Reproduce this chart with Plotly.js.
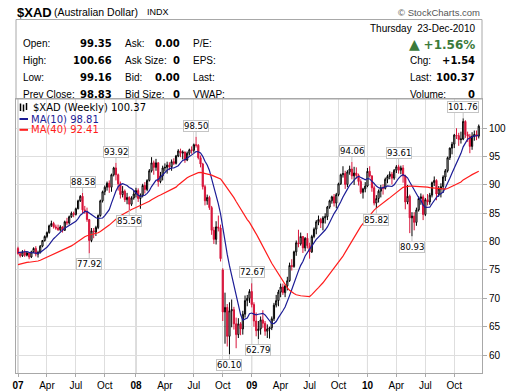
<!DOCTYPE html>
<html><head><meta charset="utf-8">
<script src="https://cdn.plot.ly/plotly-3.0.1.min.js"></script>
<style>html,body{margin:0;padding:0;background:#fff;}#chart{width:520px;height:391px;}</style>
</head><body><div id="chart"></div>
<script>
// ---------- data ----------
const firstWeek = '2007-01-01'; // weekly bars, Monday-dated
// closes of the 39 weeks before the first bar (for the moving averages)
const warmupClose = [72.5,73.3,74.5,75.5,76.3,77.0,76.0,75.7,75.5,74.3,73.2,73.6,74.3,74.8,74.9,75.3,76.3,76.5,76.3,76.3,
  76.2,76.2,76.0,75.0,75.5,74.8,74.5,75.2,75.8,76.3,77.3,77.0,77.3,77.8,78.8,78.9,78.3,78.6,78.8];
const open = [78.8,77.9,77.5,78.2,77.6,78.0,77.3,78.2,78.8,77.8,
 78.1,79.2,80.2,80.9,81.6,82.8,83.2,82.6,82.4,82.1,
 82.6,82.0,83.5,83.3,84.4,85.0,84.8,85.8,87.2,88.0,
 85.6,85.3,83.9,80.2,81.9,81.7,82.5,84.6,87.2,88.8,
 89.6,90.3,89.6,91.8,93.0,91.8,90.2,88.3,88.9,87.4,
 87.8,86.6,87.7,88.4,89.0,87.6,88.2,89.9,89.2,90.8,
 92.5,93.9,93.1,93.9,90.6,91.6,93.0,93.1,93.5,93.2,
 94.1,93.8,95.1,96.0,95.6,95.8,94.4,95.6,96.2,96.1,
 97.1,97.0,94.8,93.7,89.7,87.2,87.8,86.0,82.0,80.4,
 82.6,82.4,75.0,67.6,68.4,63.3,67.8,68.0,65.5,63.6,
 65.5,64.6,67.2,69.6,70.0,71.2,68.9,66.0,64.3,64.6,
 66.2,65.6,64.2,64.6,64.8,66.4,68.8,69.6,71.1,72.0,
 71.0,72.2,73.1,75.8,75.6,78.2,79.8,79.6,80.9,78.9,
 80.6,79.3,78.2,80.9,82.2,83.5,83.9,83.3,84.2,84.4,
 86.1,87.2,87.9,86.8,88.3,90.2,91.8,92.0,90.1,92.3,
 92.8,91.6,92.1,91.7,90.6,88.7,89.3,89.8,92.4,91.6,
 89.5,86.8,87.6,88.9,89.5,89.4,91.0,91.5,91.9,91.2,
 92.6,93.2,92.6,93.0,91.6,87.0,88.0,84.2,84.5,83.4,
 85.6,87.6,87.9,84.8,87.4,87.0,88.2,90.4,90.8,88.4,
 89.3,89.7,91.4,92.5,94.8,96.5,97.2,98.8,98.7,98.0,
 98.1,101.2,98.9,98.6,96.8,98.6,98.9,98.6];
const high = [79.1,78.2,78.5,78.6,78.3,78.1,78.4,79.0,79.2,78.4,
 79.4,80.3,81.1,81.8,83.0,83.7,83.5,83.0,83.0,82.9,
 82.7,83.7,84.2,84.6,85.3,85.3,86.0,87.4,88.2,88.58,
 86.3,86.0,84.0,82.4,82.4,82.8,84.8,87.4,89.0,89.9,
 90.6,90.8,92.0,93.2,93.92,92.0,90.6,89.8,89.2,88.6,
 88.0,88.0,89.0,89.5,89.4,88.5,90.2,90.5,91.0,92.8,
 94.9,94.3,94.6,94.0,92.3,93.4,93.8,94.1,94.0,94.5,
 94.7,95.3,96.3,96.4,96.1,95.9,95.9,96.4,96.8,97.3,
 98.5,97.2,95.2,93.9,90.0,88.3,88.1,86.3,82.6,83.6,
 84.6,83.0,75.3,71.0,69.0,69.3,69.8,68.5,66.6,66.5,
 65.8,67.8,70.5,70.6,71.6,72.67,69.3,67.5,66.0,66.8,
 67.9,66.0,65.4,65.0,66.8,69.2,70.6,71.5,72.6,72.6,
 72.4,73.8,76.3,76.9,78.4,80.2,82.1,81.6,81.0,80.8,
 81.5,79.8,81.2,82.5,83.8,84.6,84.2,84.5,85.0,86.3,
 87.4,88.1,88.4,88.6,90.4,92.0,93.3,92.5,92.6,93.4,
 94.06,93.2,93.1,92.0,91.0,89.5,90.5,93.0,93.3,91.7,
 89.9,88.2,89.2,90.0,90.1,91.3,91.8,92.4,92.3,92.8,
 93.5,93.61,93.4,93.5,91.8,90.0,88.3,85.2,85.2,86.0,
 88.0,88.5,88.3,87.7,88.4,88.6,90.6,91.5,91.0,89.8,
 90.3,91.7,92.8,95.0,96.6,97.6,99.0,100.0,99.2,99.4,
 101.76,101.4,99.4,99.0,99.3,99.6,99.6,100.66];
const low = [77.7,77.2,77.3,77.3,77.4,76.9,77.1,78.0,77.4,77.2,
 77.9,79.0,80.0,80.6,81.4,82.6,82.3,82.1,81.9,81.8,
 81.6,81.9,82.9,83.0,84.2,84.3,84.6,85.7,87.0,85.0,
 84.9,83.5,77.92,79.9,80.6,81.0,82.2,84.4,86.9,88.2,
 89.0,88.6,88.8,91.5,90.8,89.0,87.6,87.8,87.0,86.6,
 85.56,86.3,87.4,87.8,87.0,85.8,87.8,88.5,88.9,90.6,
 92.2,91.8,92.5,89.7,90.3,90.8,92.4,92.0,92.6,92.5,
 93.5,93.6,94.9,94.9,94.5,93.9,94.2,95.2,95.5,95.7,
 96.6,94.5,93.1,89.2,86.4,86.5,85.6,81.2,79.6,79.5,
 81.8,76.5,66.0,62.0,61.5,60.10,64.9,64.5,61.2,63.0,
 63.5,63.6,66.6,68.6,69.2,68.4,65.0,63.3,62.79,63.6,
 64.8,63.4,63.0,62.9,64.4,66.0,68.4,68.6,70.2,70.6,
 70.2,71.4,72.9,74.9,75.4,77.5,79.0,79.3,78.0,78.3,
 78.8,77.0,78.0,80.6,81.3,82.9,82.4,82.0,83.2,83.8,
 85.8,86.7,86.2,85.9,88.0,90.0,91.3,89.3,89.6,91.8,
 91.0,90.0,91.1,89.9,88.4,87.6,88.7,89.6,91.3,88.8,
 86.4,85.82,86.9,87.8,88.3,89.2,90.3,91.0,90.1,90.9,
 92.1,92.0,91.9,90.4,85.7,86.6,81.5,80.93,82.0,82.8,
 85.3,86.5,83.8,84.5,86.4,86.5,87.8,89.8,87.3,87.9,
 87.8,88.6,90.7,92.2,94.4,95.4,96.5,98.1,96.9,97.3,
 97.9,98.3,97.6,95.6,96.2,97.8,97.9,98.2];
const close = [77.9,77.5,78.2,77.6,78.0,77.3,78.2,78.8,77.8,78.1,
 79.2,80.2,80.9,81.6,82.8,83.2,82.6,82.4,82.1,82.6,
 82.0,83.5,83.3,84.4,85.0,84.8,85.8,87.2,88.0,85.6,
 85.3,83.9,80.2,81.9,81.7,82.5,84.6,87.2,88.8,89.6,
 90.3,89.6,91.8,93.0,91.8,90.2,88.3,88.9,87.4,87.8,
 86.6,87.7,88.4,89.0,87.6,88.2,89.9,89.2,90.8,92.5,
 93.9,93.1,93.9,90.6,91.6,93.0,93.1,93.5,93.2,94.1,
 93.8,95.1,96.0,95.6,95.8,94.4,95.6,96.2,96.1,97.1,
 97.0,94.8,93.7,89.7,87.2,87.8,86.0,82.0,80.4,82.6,
 82.4,77.0,67.6,68.4,63.3,67.8,68.0,65.5,63.6,65.5,
 64.6,67.2,69.6,70.0,71.2,68.9,66.0,64.3,64.6,66.2,
 65.6,64.2,64.6,64.8,66.4,68.8,69.6,71.1,72.0,71.0,
 72.2,73.1,75.8,75.6,78.2,79.8,79.6,80.9,78.9,80.6,
 79.3,78.2,80.9,82.2,83.5,83.9,83.3,84.2,84.4,86.1,
 87.2,87.9,86.8,88.3,90.2,91.8,92.0,90.1,92.3,92.8,
 91.6,92.1,91.7,90.6,88.7,89.3,89.8,92.4,91.6,89.5,
 86.8,87.6,88.9,89.5,89.4,91.0,91.5,91.9,91.2,92.6,
 93.2,92.6,93.0,91.6,87.0,88.0,84.2,84.5,83.4,85.6,
 87.6,87.9,84.8,87.4,87.0,88.2,90.4,90.8,88.4,89.3,
 89.7,91.4,92.5,94.8,96.5,97.2,98.8,98.7,98.0,98.1,
 101.2,98.9,98.6,96.8,98.6,98.9,98.6,100.37];
// labelled swing points: bar date and whether the label marks the high or the low
const swingDates = ['2007-07-23','2007-08-13','2007-11-05','2007-12-17','2008-07-14','2008-10-27','2009-01-05',
  '2009-01-26','2009-11-16','2010-02-01','2010-04-12','2010-05-24','2010-11-01'];
const swingSides = ['hi','lo','hi','lo','hi','lo','hi','lo','hi','lo','hi','lo','hi'];
const tickDates = ['2007-01-01','2007-04-02','2007-07-02','2007-10-01','2008-01-07','2008-04-07','2008-07-07','2008-10-06',
  '2009-01-05','2009-04-06','2009-07-06','2009-10-05','2010-01-04','2010-04-05','2010-07-05','2010-10-04'];
const tickLabels = ['<b>07</b>','Apr','Jul','Oct','<b>08</b>','Apr','Jul','Oct','<b>09</b>','Apr','Jul','Oct','<b>10</b>','Apr','Jul','Oct'];
const yTicks = [60,65,70,75,80,85,90,95,100];
const quote = {open:'99.35', high:'100.66', low:'99.16', prev:'98.83', ask:'0.00', askSize:'0', bid:'0.00', bidSize:'0',
  date:'Thursday&nbsp;&nbsp;23-Dec-2010', pct:'+1.56%', chg:'+1.54', last:'100.37', volume:'0'};
const legendText = {main:'$XAD (Weekly) 100.37', ma10:'MA(10) 98.81', ma40:'MA(40) 92.41'};

// ---------- derived ----------
function addDays(s, d){ const t = new Date(s + 'T00:00:00Z'); t.setUTCDate(t.getUTCDate() + d); return t.toISOString().slice(0,10); }
const weeks = close.map((_, i) => addDays(firstWeek, 7 * i));
const allClose = warmupClose.concat(close);
function movingAvg(n){
  return close.map((_, i) => { const j = i + warmupClose.length; let s = 0; for (let k = j - n + 1; k <= j; k++) s += allClose[k]; return s / n; });
}
const ma10 = movingAvg(10), ma40 = movingAvg(40);
const up = {x:[],o:[],h:[],l:[],c:[]}, dn = {x:[],o:[],h:[],l:[],c:[]};
close.forEach((c, i) => {
  const prev = i ? close[i-1] : warmupClose[warmupClose.length-1];
  const g = c >= prev ? up : dn;
  g.x.push(weeks[i]); g.o.push(open[i]); g.h.push(high[i]); g.l.push(low[i]); g.c.push(c);
});

const BLACK = '#000000', RED = '#d8143a', NAVY = '#1c1c96', MARED = '#ff1c1c';
function candle(g, col){
  return {type:'candlestick', x:g.x, open:g.o, high:g.h, low:g.l, close:g.c,
    increasing:{line:{color:col, width:1}, fillcolor:'#ffffff'},
    decreasing:{line:{color:col, width:1}, fillcolor:col},
    whiskerwidth:0, hoverinfo:'skip', showlegend:false};
}
const traces = [
  candle(up, BLACK), candle(dn, RED),
  {type:'scatter', mode:'lines', x:weeks, y:ma10, line:{color:NAVY, width:1.2}, hoverinfo:'skip', showlegend:false},
  {type:'scatter', mode:'lines', x:weeks, y:ma40, line:{color:MARED, width:1.2}, hoverinfo:'skip', showlegend:false}
];

// ---------- page geometry (pixels) ----------
const L = 16, R = 482, T = 99, B = 373;
const px = x => (x - L) / (R - L);
const py = y => (B - y) / (B - T);
const SANS = 'Liberation Sans, Arial, sans-serif';
const VERD = 'DejaVu Sans, Verdana, sans-serif';
function txt(x, y, text, o){
  o = o || {};
  return {xref:'paper', yref:'paper', x:px(x), y:py(y), text:text, showarrow:false,
    xanchor:o.anchor || 'left', yanchor:'middle', align:o.anchor || 'left',
    font:{family:o.family || SANS, size:o.size || 10, color:o.color || '#000'}};
}
const ann = [];
// header
ann.push(txt(15, 12, '<b>$XAD</b>', {size:13}));
ann.push(txt(52, 12.5, '(Australian Dollar)', {size:10.5}));
ann.push(txt(145, 12.5, 'INDX', {size:9}));
ann.push(txt(482, 12.5, '© StockCharts.com', {anchor:'right', size:9.5, color:'#555'}));
// info box
const rowsY = [43.5, 60.8, 77.6, 94];
const labels1 = ['Open:', 'High:', 'Low:', 'Prev Close:'];
const values1 = [quote.open, quote.high, quote.low, quote.prev];
const labels2 = ['Ask:', 'Ask Size:', 'Bid:', 'Bid Size:'];
const values2 = [quote.ask, quote.askSize, quote.bid, quote.bidSize];
const labels3 = ['P/E:', 'EPS:', 'Last:', 'VWAP:'];
rowsY.forEach((y, k) => {
  ann.push(txt(21, y, labels1[k], {size:10}));
  ann.push(txt(113.5, y, '<b>' + values1[k] + '</b>', {anchor:'right', family:VERD, size:10}));
  ann.push(txt(123, y, labels2[k], {size:10}));
  ann.push(txt(181.5, y, '<b>' + values2[k] + '</b>', {anchor:'right', family:VERD, size:10}));
  ann.push(txt(191, y, labels3[k], {size:10}));
});
ann.push(txt(476.5, 28, quote.date, {anchor:'right', size:10}));
ann.push(txt(476.5, 44, '<span style="font-size:14px">▲</span> <b>' + quote.pct + '</b>', {anchor:'right', family:VERD, size:12, color:'#3b7a3b'}));
ann.push(txt(408, 60.8, 'Chg:', {size:10}));
ann.push(txt(476.5, 60.8, '<b>' + quote.chg + '</b>', {anchor:'right', family:VERD, size:10}));
ann.push(txt(408, 77.6, 'Last:', {size:10}));
ann.push(txt(476.5, 77.6, '<b>' + quote.last + '</b>', {anchor:'right', family:VERD, size:10}));
ann.push(txt(408, 94, 'Volume:', {size:10}));
ann.push(txt(476.5, 94, '<b>' + quote.volume + '</b>', {anchor:'right', family:VERD, size:10}));
// legend
ann.push(txt(31, 107.5, legendText.main, {family:VERD, size:10}));
ann.push(txt(29, 119, legendText.ma10, {family:VERD, size:10, color:NAVY}));
ann.push(txt(29, 129.8, legendText.ma40, {family:VERD, size:10, color:MARED}));
// swing labels
swingDates.forEach((d, k) => {
  const i = weeks.indexOf(d);
  const hi = swingSides[k] === 'hi';
  const v = hi ? high[i] : low[i];
  ann.push({xref:'x', yref:'y', x:d, y:v, text:v.toFixed(2), showarrow:true, arrowhead:0, arrowwidth:1,
    arrowcolor:'#c4c4c4', ax:0, ay:hi ? -11 : 11, standoff:0, bgcolor:'#ffffff', bordercolor:'#c4c4c4',
    borderwidth:1, borderpad:0, font:{family:VERD, size:8.5, color:'#000'}});
});

const shapes = [];
// info box frame
shapes.push({type:'rect', xref:'paper', yref:'paper', x0:0, x1:1, y0:1, y1:py(19.5), line:{color:'#a8a8a8', width:1}});
// year grid lines (darker)
[tickDates[0], tickDates[4], tickDates[8], tickDates[12]].forEach(d => {
  shapes.push({type:'line', xref:'x', yref:'paper', x0:d, x1:d, y0:0, y1:1, line:{color:'#b4b4b4', width:1}, layer:'below'});
});
// legend icons
shapes.push({type:'line', xref:'paper', yref:'paper', x0:px(19.5), x1:px(28), y0:py(119), y1:py(119), line:{color:NAVY, width:2}});
shapes.push({type:'line', xref:'paper', yref:'paper', x0:px(19.5), x1:px(28), y0:py(129.8), y1:py(129.8), line:{color:MARED, width:2}});
[[20.5,103.5,111],[23.5,104.5,111.5],[26.5,103,110]].forEach(b => {
  shapes.push({type:'line', xref:'paper', yref:'paper', x0:px(b[0]), x1:px(b[0]), y0:py(b[1]), y1:py(b[2]), line:{color:'#000', width:1.5}});
});

const layout = {
  width:520, height:391, autosize:false,
  margin:{l:L, r:520 - R, t:T, b:391 - B, pad:0},
  paper_bgcolor:'#ffffff', plot_bgcolor:'#ffffff',
  showlegend:false, boxgap:0.25,
  font:{family:SANS, size:10, color:'#000'},
  xaxis:{type:'date', range:['2006-12-25 17:00','2010-12-30 05:00'], rangeslider:{visible:false},
    tickmode:'array', tickvals:tickDates, ticktext:tickLabels, ticks:'outside', ticklen:3, tickcolor:'#aaaaaa',
    showgrid:true, gridcolor:'#dedede', gridwidth:1, showline:true, mirror:true, linecolor:'#a8a8a8', linewidth:1,
    zeroline:false, tickfont:{family:SANS, size:10, color:'#000'}, fixedrange:true},
  yaxis:{side:'right', range:[56.83, 105.16], tickmode:'array', tickvals:yTicks, ticks:'outside', ticklen:4,
    tickcolor:'#aaaaaa', showgrid:true, gridcolor:'#dedede', gridwidth:1, showline:true, mirror:true,
    linecolor:'#a8a8a8', linewidth:1, zeroline:false, tickfont:{family:SANS, size:10, color:'#000'}, fixedrange:true},
  annotations:ann, shapes:shapes
};
Plotly.newPlot('chart', traces, layout, {staticPlot:true, displayModeBar:false});
</script>
</body></html>
